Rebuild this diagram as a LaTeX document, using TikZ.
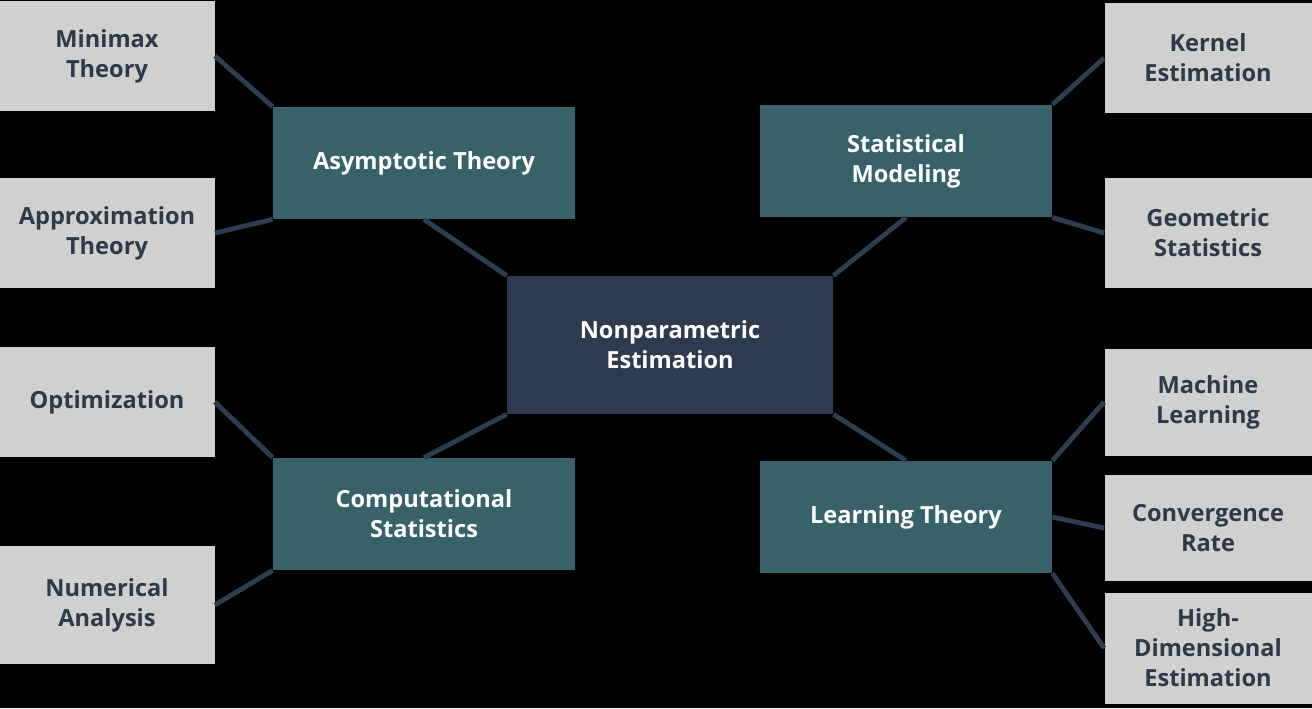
\documentclass[tikz,border=0pt]{standalone}
\usepackage{fontspec}
\setmainfont{Open Sans}
\usepackage{tikz}
\usetikzlibrary{positioning, calc}

\definecolor{leafgray}{HTML}{D0D0CE}
\definecolor{leaftext}{HTML}{2D3A4A}
\definecolor{midteal}{HTML}{37626A}
\definecolor{corenavy}{HTML}{2E3A4E}
\definecolor{linknavy}{HTML}{2C3E50}

\tikzset{
  leafbox/.style={rectangle, fill=leafgray, text=leaftext, minimum width=107.5pt, minimum height=55pt,
    inner sep=0pt, align=center, font=\fontsize{11.8}{15}\selectfont\bfseries},
  midbox/.style={rectangle, fill=midteal, text=white, minimum height=56pt,
    inner sep=0pt, align=center, font=\fontsize{11.8}{15}\selectfont\bfseries},
  corebox/.style={rectangle, fill=corenavy, text=white, minimum width=163pt, minimum height=69pt,
    inner sep=0pt, align=center, font=\fontsize{11.8}{15}\selectfont\bfseries},
  link/.style={draw=linknavy, line width=2.4pt}
}

\begin{document}
\begin{tikzpicture}[x=0.5pt, y=-0.5pt]

    % ================= Background =================
    \fill[black] (0,0) rectangle (1312,708);
    \useasboundingbox (0,0) rectangle (1312,708);

    % ================= Centre =================
    \node[corebox] (core) at (670,345) {Nonparametric\\Estimation};

    % ================= Middle ring =================
    \node[midbox, minimum width=151pt] (asym) at (424,163) {Asymptotic Theory};
    \node[midbox, minimum width=146pt] (stat) at (906,161) {Statistical\\Modeling};
    \node[midbox, minimum width=151pt] (comp) at (424,514) {Computational\\Statistics};
    \node[midbox, minimum width=146pt] (learn) at (906,517) {Learning Theory};

    % ================= Left leaves =================
    \node[leafbox] (minimax) at (107,56) {Minimax\\Theory};
    \node[leafbox] (approx) at (107,233) {Approximation\\Theory};
    \node[leafbox] (optim) at (107,402) {Optimization};
    \node[leafbox, minimum height=59pt] (numer) at (107,605) {Numerical\\Analysis};

    % ================= Right leaves =================
    \node[leafbox, minimum width=103.5pt] (kernel) at (1208,58) {Kernel\\Estimation};
    \node[leafbox, minimum width=103.5pt] (geom) at (1208,233) {Geometric\\Statistics};
    \node[leafbox, minimum width=103.5pt, minimum height=53.5pt] (machine) at (1208,402) {Machine\\Learning};
    \node[leafbox, minimum width=103.5pt, minimum height=53pt] (conv) at (1208,528) {Convergence\\Rate};
    \node[leafbox, minimum width=103.5pt, minimum height=55.5pt] (high) at (1208,648) {High-\\Dimensional\\Estimation};

    % ================= Links =================
    \draw[link] (minimax.east) -- (asym.north west);
    \draw[link] (approx.east) -- (asym.south west);
    \draw[link] (asym.south) -- (core.north west);
    \draw[link] (stat.south) -- (core.north east);
    \draw[link] (stat.north east) -- (kernel.west);
    \draw[link] (stat.south east) -- (geom.west);
    \draw[link] (optim.east) -- (comp.north west);
    \draw[link] (core.south west) -- (comp.north);
    \draw[link] (comp.south west) -- (numer.east);
    \draw[link] (core.south east) -- (learn.north);
    \draw[link] (learn.north east) -- (machine.west);
    \draw[link] (learn.east) -- (conv.west);
    \draw[link] (learn.south east) -- (high.west);

\end{tikzpicture}
\end{document}
